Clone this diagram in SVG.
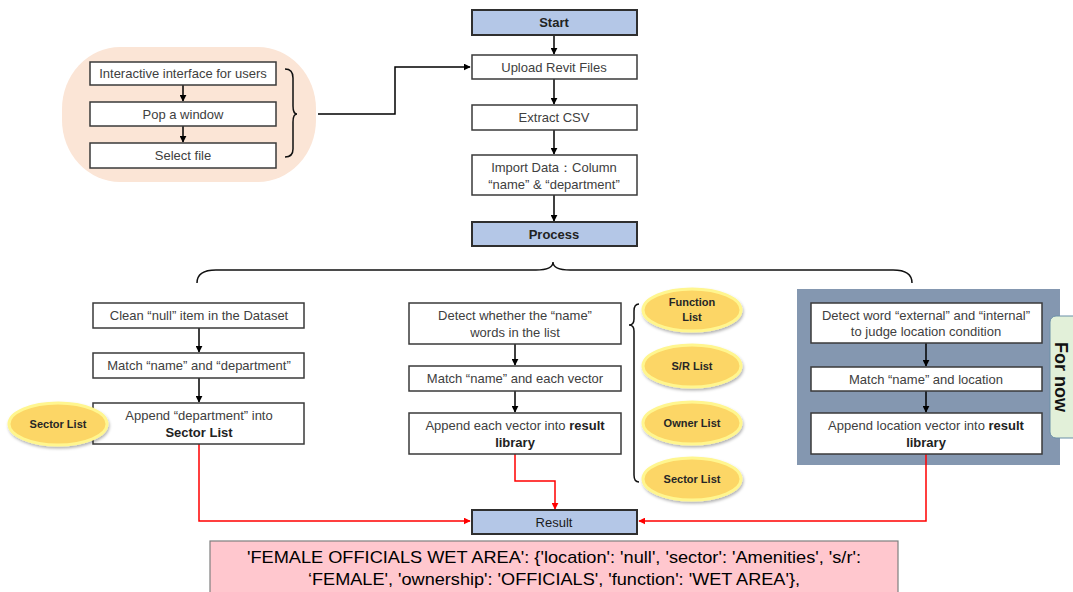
<svg xmlns="http://www.w3.org/2000/svg" width="1073" height="592" viewBox="0 0 1073 592">
<defs>
<style>
.box{fill:#fff;stroke:#3a3a3a;stroke-width:1.5}
.blue{fill:#b4c7e7;stroke:#2f2f2f;stroke-width:2}
.t{font-family:"Liberation Sans",Arial,sans-serif;font-size:13px;fill:#404040;text-anchor:middle}
.tb{font-family:"Liberation Sans",Arial,sans-serif;font-size:13px;font-weight:bold;fill:#222;text-anchor:middle}
.ell{fill:#fcd666;stroke:#fff68f;stroke-width:3}
.et{font-family:"Liberation Sans",Arial,sans-serif;font-size:11px;font-weight:bold;fill:#262626;text-anchor:middle}
.blk{fill:none;stroke:#000;stroke-width:1.5}
.red{fill:none;stroke:#ff0000;stroke-width:1.5}
.brace{fill:none;stroke:#111;stroke-width:1.5}
</style>
<marker id="ab" viewBox="0 0 10 10" refX="9" refY="5" markerWidth="7" markerHeight="7" orient="auto" markerUnits="userSpaceOnUse"><path d="M0,0 L10,5 L0,10 z" fill="#000"/></marker>
<marker id="ar" viewBox="0 0 10 10" refX="9" refY="5" markerWidth="7" markerHeight="7" orient="auto" markerUnits="userSpaceOnUse"><path d="M0,0 L10,5 L0,10 z" fill="#ff0000"/></marker>
<filter id="sh" x="-20%" y="-20%" width="140%" height="150%"><feDropShadow dx="1" dy="2" stdDeviation="1.5" flood-color="#000" flood-opacity="0.3"/></filter>
</defs>

<g id="upload-panel">
<rect x="62" y="47" width="254" height="135" rx="58" ry="62" fill="#fbe5d6"/>
</g>

<g id="right-panel">
<rect x="797" y="289" width="263" height="176" fill="#8497b0"/>
</g>

<g id="connectors">
<line class="blk" x1="183" y1="85" x2="183" y2="101" marker-end="url(#ab)"/>
<line class="blk" x1="183" y1="126" x2="183" y2="142" marker-end="url(#ab)"/>
<polyline class="blk" points="318,114 395,114 395,67 470,67" marker-end="url(#ab)"/>
<line class="blk" x1="554" y1="35" x2="554" y2="54" marker-end="url(#ab)"/>
<line class="blk" x1="554" y1="79" x2="554" y2="104" marker-end="url(#ab)"/>
<line class="blk" x1="554" y1="130" x2="554" y2="154" marker-end="url(#ab)"/>
<line class="blk" x1="554" y1="195" x2="554" y2="221" marker-end="url(#ab)"/>
<line class="blk" x1="199" y1="328" x2="199" y2="352" marker-end="url(#ab)"/>
<line class="blk" x1="199" y1="378" x2="199" y2="402" marker-end="url(#ab)"/>
<line class="blk" x1="515" y1="344" x2="515" y2="365" marker-end="url(#ab)"/>
<line class="blk" x1="515" y1="390" x2="515" y2="412" marker-end="url(#ab)"/>
<line class="blk" x1="926" y1="343" x2="926" y2="366" marker-end="url(#ab)"/>
<line class="blk" x1="926" y1="391" x2="926" y2="412" marker-end="url(#ab)"/>
<polyline class="red" points="199,444 199,521 470,521" marker-end="url(#ar)"/>
<polyline class="red" points="515,454 515,481 555,481 555,509" marker-end="url(#ar)"/>
<polyline class="red" points="926,454 926,521 639,521" marker-end="url(#ar)"/>
<path class="brace" d="M285,69 Q293,69 293,78 L293,106 Q293,114 297,114 Q293,114 293,122 L293,149 Q293,157 285,157"/>
<path class="brace" d="M197,283 Q197,270 216,270 L536,270 Q553,270 553,262 Q553,270 570,270 L893,270 Q912,270 912,283"/>
<path class="brace" d="M639,304 Q634,304 634,311 L634,319 Q634,325 629,325 Q634,325 634,331 L634,475 Q634,482 639,482"/>
</g>

<g id="n-interactive"><rect class="box" x="90" y="62" width="186" height="23"/><text class="t" x="183" y="78">Interactive interface for users</text></g>
<g id="n-pop"><rect class="box" x="90" y="102" width="186" height="24"/><text class="t" x="183" y="119">Pop a window</text></g>
<g id="n-select"><rect class="box" x="90" y="143" width="186" height="25"/><text class="t" x="183" y="160">Select file</text></g>

<g id="n-start"><rect class="blue" x="472" y="10" width="165" height="25"/><text class="tb" x="554" y="27">Start</text></g>
<g id="n-upload"><rect class="box" x="472" y="55" width="165" height="24"/><text class="t" x="554" y="72">Upload Revit Files</text></g>
<g id="n-extract"><rect class="box" x="472" y="105" width="165" height="25"/><text class="t" x="554" y="122">Extract CSV</text></g>
<g id="n-import"><rect class="box" x="472" y="155" width="165" height="40"/><text class="t" x="554" y="172">Import Data：Column</text><text class="t" x="554" y="189">“name” &amp; “department”</text></g>
<g id="n-process"><rect class="blue" x="472" y="222" width="165" height="24"/><text class="tb" x="554" y="239">Process</text></g>

<g id="n-clean"><rect class="box" x="93" y="303" width="211" height="25"/><text class="t" x="199" y="320">Clean “null” item in the Dataset</text></g>
<g id="n-match-dept"><rect class="box" x="93" y="353" width="211" height="25"/><text class="t" x="199" y="370">Match “name” and “department”</text></g>
<g id="n-append-dept"><rect class="box" x="93" y="403" width="211" height="41"/><text class="t" x="199" y="420">Append “department” into</text><text class="tb" x="199" y="437">Sector List</text></g>
<g id="n-sector-left"><ellipse class="ell" cx="58" cy="424" rx="49" ry="21" filter="url(#sh)"/><text class="et" x="58" y="428">Sector List</text></g>

<g id="n-detect-name"><rect class="box" x="409" y="303" width="212" height="41"/><text class="t" x="515" y="320">Detect whether the “name”</text><text class="t" x="515" y="337">words in the list</text></g>
<g id="n-match-vector"><rect class="box" x="409" y="366" width="212" height="25"/><text class="t" x="515" y="383">Match “name” and each vector</text></g>
<g id="n-append-vector"><rect class="box" x="409" y="413" width="212" height="41"/><text class="t" x="515" y="430">Append each vector into <tspan style="font-weight:bold;fill:#222">result</tspan></text><text class="tb" x="515" y="447">library</text></g>

<g id="n-function"><ellipse class="ell" cx="692" cy="310" rx="49" ry="21" filter="url(#sh)"/><text class="et" x="692" y="306">Function</text><text class="et" x="692" y="321">List</text></g>
<g id="n-sr"><ellipse class="ell" cx="692" cy="366" rx="49" ry="21" filter="url(#sh)"/><text class="et" x="692" y="370">S/R List</text></g>
<g id="n-owner"><ellipse class="ell" cx="692" cy="423" rx="49" ry="21" filter="url(#sh)"/><text class="et" x="692" y="427">Owner List</text></g>
<g id="n-sector-mid"><ellipse class="ell" cx="692" cy="479" rx="49" ry="21" filter="url(#sh)"/><text class="et" x="692" y="483">Sector List</text></g>

<g id="n-detect-loc"><rect class="box" x="811" y="303" width="231" height="40"/><text class="t" x="926" y="320">Detect word “external” and “internal”</text><text class="t" x="926" y="336">to judge location condition</text></g>
<g id="n-match-loc"><rect class="box" x="811" y="367" width="231" height="24"/><text class="t" x="926" y="384">Match “name” and location</text></g>
<g id="n-append-loc"><rect class="box" x="811" y="413" width="231" height="41"/><text class="t" x="926" y="430">Append location vector into <tspan style="font-weight:bold;fill:#222">result</tspan></text><text class="tb" x="926" y="447">library</text></g>
<g id="n-fornow"><rect x="1050" y="316" width="35" height="122" rx="6" fill="#e2f0d9" stroke="#6b8fa8" stroke-width="1"/><text transform="translate(1055,377) rotate(90)" font-family="'Liberation Sans',Arial,sans-serif" font-size="18" font-weight="bold" fill="#111" text-anchor="middle">For now</text></g>

<g id="n-result"><rect class="blue" x="472" y="510" width="165" height="24"/><text class="t" x="554" y="527" style="fill:#1a1a1a">Result</text></g>

<g id="n-output"><rect x="210" y="541" width="688" height="60" fill="#ffc7ce" stroke="#7f7f7f" stroke-width="1.2"/>
<text x="554" y="563" font-family="'Liberation Sans',Arial,sans-serif" font-size="17" fill="#000" text-anchor="middle" textLength="614" lengthAdjust="spacingAndGlyphs">'FEMALE OFFICIALS WET AREA': {'location': 'null', 'sector': 'Amenities', 's/r':</text>
<text x="554" y="585" font-family="'Liberation Sans',Arial,sans-serif" font-size="17" fill="#000" text-anchor="middle" textLength="492" lengthAdjust="spacingAndGlyphs">‘FEMALE', 'ownership': 'OFFICIALS', 'function': 'WET AREA'},</text>
</g>
</svg>
